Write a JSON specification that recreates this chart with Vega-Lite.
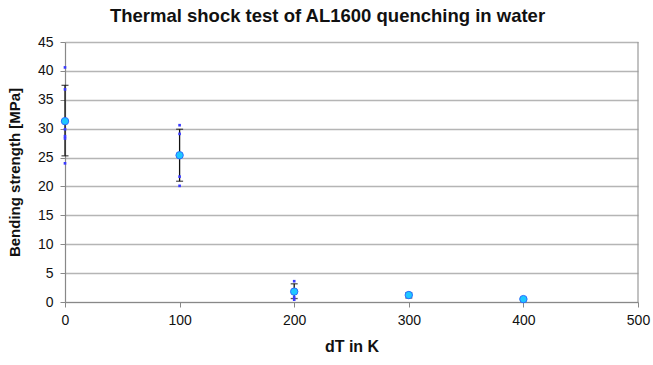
{
  "$schema": "https://vega.github.io/schema/vega-lite/v6.json",
  "width": 573,
  "height": 260,
  "autosize": {"type": "none"},
  "padding": {"left": 65, "top": 42, "right": 15, "bottom": 63},
  "background": "white",
  "config": {
    "font": "Liberation Sans",
    "view": {"stroke": null},
    "axis": {
      "labelFont": "Liberation Sans",
      "labelFontSize": 14,
      "labelColor": "#111",
      "labelFlush": false,
      "labelOverlap": false,
      "titleFont": "Liberation Sans",
      "titleFontSize": 15,
      "titleFontWeight": "bold",
      "titleColor": "#111",
      "domainColor": "#888",
      "domainWidth": 1.2,
      "tickColor": "#888",
      "tickSize": 5,
      "gridColor": "#b5b5b5",
      "gridWidth": 1.3
    }
  },
  "title": {
    "text": "Thermal shock test of AL1600 quenching in water",
    "fontSize": 18.5,
    "fontWeight": "bold",
    "font": "Liberation Sans",
    "color": "#111",
    "anchor": "middle",
    "frame": "group",
    "dx": -24,
    "offset": 10
  },
  "datasets": {
    "samples": [
      {"dT": 0, "strength": 40.6},
      {"dT": 0, "strength": 36.8},
      {"dT": 0, "strength": 29.9},
      {"dT": 0, "strength": 28.7},
      {"dT": 0, "strength": 28.3},
      {"dT": 0, "strength": 24.0},
      {"dT": 100, "strength": 30.6},
      {"dT": 100, "strength": 29.1},
      {"dT": 100, "strength": 21.7},
      {"dT": 100, "strength": 20.1},
      {"dT": 200, "strength": 3.6},
      {"dT": 200, "strength": 0.8},
      {"dT": 200, "strength": 0.4},
      {"dT": 300, "strength": 1.6},
      {"dT": 300, "strength": 0.9},
      {"dT": 400, "strength": 0.6},
      {"dT": 400, "strength": 0.4}
    ],
    "means": [
      {"dT": 0, "mean": 31.3, "lo": 25.3, "hi": 37.5},
      {"dT": 100, "mean": 25.4, "lo": 20.9, "hi": 29.9},
      {"dT": 200, "mean": 1.8, "lo": 0.6, "hi": 3.15},
      {"dT": 300, "mean": 1.2, "lo": 0.7, "hi": 1.6},
      {"dT": 400, "mean": 0.5, "lo": 0.35, "hi": 0.65}
    ]
  },
  "encoding": {
    "x": {
      "field": "dT", "type": "quantitative",
      "scale": {"domain": [0, 500], "nice": false, "zero": false},
      "axis": {"title": "dT in K", "values": [0, 100, 200, 300, 400, 500], "grid": false, "labelPadding": 6, "titlePadding": 11, "titleFontSize": 16}
    }
  },
  "layer": [
    {
      "data": {"name": "means"},
      "mark": {"type": "rule", "color": "#111", "strokeWidth": 1.3},
      "encoding": {
        "y": {
          "field": "lo", "type": "quantitative",
          "scale": {"domain": [0, 45], "nice": false},
          "axis": {"title": "Bending strength [MPa]", "values": [0, 5, 10, 15, 20, 25, 30, 35, 40, 45], "grid": true, "labelPadding": 7, "titlePadding": 15}
        },
        "y2": {"field": "hi"}
      }
    },
    {
      "data": {"name": "means"},
      "mark": {"type": "tick", "orient": "horizontal", "color": "#111", "size": 7, "thickness": 1.3},
      "encoding": {
        "y": {"field": "lo", "type": "quantitative", "axis": {"title": "Bending strength [MPa]", "values": [0, 5, 10, 15, 20, 25, 30, 35, 40, 45], "grid": true, "labelPadding": 7, "titlePadding": 15}}
      }
    },
    {
      "data": {"name": "means"},
      "mark": {"type": "tick", "orient": "horizontal", "color": "#111", "size": 7, "thickness": 1.3},
      "encoding": {
        "y": {"field": "hi", "type": "quantitative", "axis": {"title": "Bending strength [MPa]", "values": [0, 5, 10, 15, 20, 25, 30, 35, 40, 45], "grid": true, "labelPadding": 7, "titlePadding": 15}}
      }
    },
    {
      "data": {"name": "samples"},
      "mark": {"type": "square", "color": "#3a3aff", "size": 7, "opacity": 1},
      "encoding": {
        "y": {"field": "strength", "type": "quantitative", "axis": {"title": "Bending strength [MPa]", "values": [0, 5, 10, 15, 20, 25, 30, 35, 40, 45], "grid": true, "labelPadding": 7, "titlePadding": 15}}
      }
    },
    {
      "data": {"name": "means"},
      "mark": {"type": "circle", "fill": "#1ec8ff", "stroke": "#2a6cff", "strokeWidth": 1, "size": 55, "opacity": 1},
      "encoding": {
        "y": {"field": "mean", "type": "quantitative", "axis": {"title": "Bending strength [MPa]", "values": [0, 5, 10, 15, 20, 25, 30, 35, 40, 45], "grid": true, "labelPadding": 7, "titlePadding": 15}}
      }
    },
    {
      "data": {"values": [{"dT": 500, "a": 0, "b": 45}]},
      "mark": {"type": "rule", "color": "#999", "strokeWidth": 1.2},
      "encoding": {
        "y": {"field": "a", "type": "quantitative", "axis": {"title": "Bending strength [MPa]", "values": [0, 5, 10, 15, 20, 25, 30, 35, 40, 45], "grid": true, "labelPadding": 7, "titlePadding": 15}},
        "y2": {"field": "b"}
      }
    }
  ]
}
